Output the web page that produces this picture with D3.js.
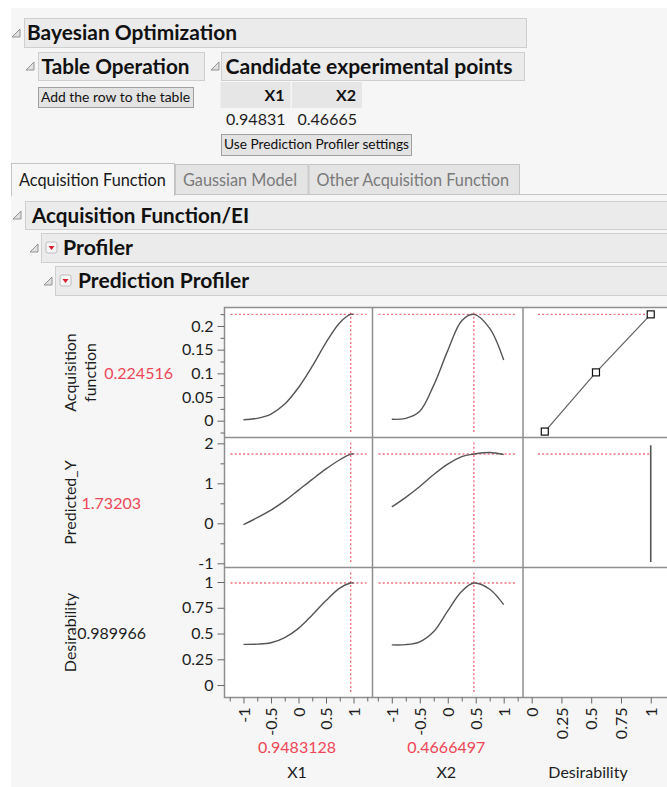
<!DOCTYPE html>
<html><head><meta charset="utf-8">
<script src="https://cdn.jsdelivr.net/npm/d3@7"></script>
<style>
body{margin:0;background:#fff;}
svg{display:block;font-family:Lato,"Open Sans",sans-serif;}
</style></head>
<body><svg id="c" width="667" height="787"></svg>
<script>
// ---------------- data ----------------
const candidateCols = ["X1", "X2"];
const candidateVals = ["0.94831", "0.46665"];
const tabNames = ["Acquisition Function", "Gaussian Model", "Other Acquisition Function"];
const responseNames = [["Acquisition", "function"], ["Predicted_Y"], ["Desirability"]];
const responseCurrent = ["0.224516", "1.73203", "0.989966"];
const factorNames = ["X1", "X2", "Desirability"];
const factorCurrent = ["0.9483128", "0.4666497", ""];
const x1Current = 0.9483128, x2Current = 0.4666497;
const acqCurrent = 0.224516, predCurrent = 1.73203, desCurrent = 0.989966;

const x1Grid = [-1, -0.75, -0.5, -0.25, 0, 0.25, 0.5, 0.75, 0.948, 1];
const acqX1  = [0.002, 0.005, 0.014, 0.035, 0.07, 0.115, 0.165, 0.207, 0.2245, 0.2245];
const predX1 = [-0.03, 0.14, 0.33, 0.56, 0.83, 1.1, 1.36, 1.59, 1.732, 1.74];
const desX1  = [0.395, 0.397, 0.41, 0.46, 0.55, 0.68, 0.82, 0.94, 0.99, 0.99];

const x2Grid = [-1, -0.75, -0.5, -0.25, 0, 0.25, 0.4666, 0.75, 1];
const acqX2  = [0.003, 0.005, 0.02, 0.075, 0.148, 0.211, 0.2245, 0.195, 0.128];
const predX2 = [0.41, 0.65, 0.92, 1.22, 1.48, 1.67, 1.732, 1.77, 1.72];
const desX2  = [0.39, 0.392, 0.42, 0.52, 0.72, 0.91, 0.99, 0.93, 0.78];

const desFnD   = [0.11, 0.54, 1.0];        // desirability at control points
const desFnAcq = [-0.023, 0.102, 0.2245];  // acquisition value at control points
const desPredD = [1, 1];
const desPredY = [-0.97, 1.95];

const rowTicks = [[0, 0.05, 0.1, 0.15, 0.2], [-1, 0, 1, 2], [0, 0.25, 0.5, 0.75, 1]];
const rowMinor = [[-0.025, 0.025, 0.075, 0.125, 0.175, 0.225], [-0.5, 0.5, 1.5], []];
const rowLabels = [["0", "0.05", "0.1", "0.15", "0.2"], ["-1", "0", "1", "2"], ["0", "0.25", "0.5", "0.75", "1"]];
const colTicks = [[-1, -0.5, 0, 0.5, 1], [-1, -0.5, 0, 0.5, 1], [0, 0.25, 0.5, 0.75, 1]];
const colMinor = [[-1.25, -0.75, -0.25, 0.25, 0.75, 1.25], [-1.25, -0.75, -0.25, 0.25, 0.75, 1.25], []];
const colLabels = [["-1", "-0.5", "0", "0.5", "1"], ["-1", "-0.5", "0", "0.5", "1"], ["0", "0.25", "0.5", "0.75", "1"]];

// ---------------- drawing ----------------
const RED = "#ee4757", TXT = "#1e1e1e";
const svg = d3.select("#c");
svg.append("rect").attr("x", 11).attr("y", 8).attr("width", 656).attr("height", 779).attr("fill", "#f6f6f6");

function tri(x, y) { // disclosure triangle, lower-right
  svg.append("path").attr("d", `M${x},${y + 8}L${x + 8},${y + 8}L${x + 8},${y}Z`)
    .attr("fill", "#e0e0e0").attr("stroke", "#8a8a8a").attr("stroke-width", 0.9);
}
function redIcon(x, y) {
  svg.append("rect").attr("x", x).attr("y", y).attr("width", 11).attr("height", 11).attr("rx", 2)
    .attr("fill", "#f7f7f7").attr("stroke", "#b0b0b0").attr("stroke-width", 0.8);
  svg.append("path").attr("d", `M${x + 2.5},${y + 4}L${x + 8.5},${y + 4}L${x + 5.5},${y + 8}Z`).attr("fill", "#d9202e");
}
function header(x, y, w, h, text, tx, fs, tw) {
  svg.append("rect").attr("x", x + 0.5).attr("y", y + 0.5).attr("width", w).attr("height", h)
    .attr("fill", "#ebebeb").attr("stroke", "#cfcfcf");
  svg.append("text").attr("x", tx).attr("y", y + h / 2 + 0.5).attr("dy", "0.36em")
    .attr("font-size", fs).attr("font-weight", 700).attr("fill", "#111")
    .attr("textLength", tw).attr("lengthAdjust", "spacingAndGlyphs").text(text);
}
function button(x, y, w, h, text, fs, tw) {
  svg.append("rect").attr("x", x + 0.5).attr("y", y + 0.5).attr("width", w).attr("height", h)
    .attr("fill", "#e3e3e3").attr("stroke", "#a0a0a0");
  svg.append("text").attr("x", x + 3).attr("y", y + h / 2).attr("dy", "0.35em")
    .attr("font-size", fs).attr("fill", "#111")
    .attr("textLength", tw).attr("lengthAdjust", "spacingAndGlyphs").text(text);
}

header(24, 18, 502, 29, "Bayesian Optimization", 27, 20, 210); tri(12, 29);
header(38, 52, 166, 28, "Table Operation", 41.5, 20, 148); tri(26, 62);
header(221, 52, 303, 28, "Candidate experimental points", 225.5, 20, 287); tri(211, 62);
button(38, 87, 155, 20, "Add the row to the table", 13.5, 149);

// candidate table
const cellX = [220.5, 292];
candidateCols.forEach((c, i) => {
  svg.append("rect").attr("x", cellX[i]).attr("y", 82).attr("width", 70).attr("height", 26).attr("fill", "#e6e6e6");
  svg.append("text").attr("x", cellX[i] + 64).attr("y", 95).attr("dy", "0.36em").attr("text-anchor", "end")
    .attr("font-size", 16).attr("font-weight", 700).attr("fill", "#111").text(c);
  svg.append("text").attr("x", cellX[i] + 65).attr("y", 119).attr("dy", "0.36em").attr("text-anchor", "end")
    .attr("font-size", 16).attr("fill", TXT).text(candidateVals[i]);
});
button(221, 134, 190, 21, "Use Prediction Profiler settings", 13.5, 185);

// tabs
const tabX = [11, 175, 308.5, 520];
svg.append("line").attr("x1", 11).attr("x2", 667).attr("y1", 194.5).attr("y2", 194.5).attr("stroke", "#c4c4c4");
tabNames.forEach((t, i) => {
  const sel = i === 0;
  svg.append("rect").attr("x", tabX[i] + 0.5).attr("y", sel ? 163.5 : 164.5).attr("width", tabX[i + 1] - tabX[i] - 1)
    .attr("height", sel ? 32 : 30).attr("fill", sel ? "#f6f6f6" : "#e4e4e4").attr("stroke", "#c4c4c4");
  svg.append("text").attr("x", tabX[i] + 8).attr("y", 180.5).attr("dy", "0.35em").attr("font-size", 16.3)
    .attr("fill", sel ? "#1a1a1a" : "#7a7a7a").text(t);
});
svg.append("rect").attr("x", 12).attr("y", 190).attr("width", 162).attr("height", 6).attr("fill", "#f6f6f6");

header(25, 201, 660, 28, "Acquisition Function/EI", 32, 20, 217); tri(13, 211);
header(41, 233, 660, 29, "Profiler", 63, 20, 70); tri(30, 244); redIcon(46, 242);
header(55, 266, 660, 29, "Prediction Profiler", 78, 20, 171); tri(44, 277); redIcon(60, 275);

// profiler grid
const cols = [{ l: 224.5, r: 372.5, dom: [-1.345, 1.345] },
              { l: 372.5, r: 523, dom: [-1.345, 1.345] },
              { l: 523, r: 673, dom: [-0.073, 1.187] }];
const rows = [{ t: 307.5, b: 437.5, dom: [-0.0355, 0.239] },
              { t: 437.5, b: 567.5, dom: [-1.105, 2.146] },
              { t: 567.5, b: 697.5, dom: [-0.121, 1.141] }];
const xs = cols.map(c => d3.scaleLinear().domain(c.dom).range([c.l, c.r]));
const ys = rows.map(r => d3.scaleLinear().domain(r.dom).range([r.b, r.t]));

svg.append("rect").attr("x", 224.5).attr("y", 307.5).attr("width", 460).attr("height", 390)
  .attr("fill", "#fff").attr("stroke", "#8f8f8f").attr("stroke-width", 1.5);
[372.5, 523].forEach(x => svg.append("line").attr("x1", x).attr("x2", x).attr("y1", 307.5).attr("y2", 697.5)
  .attr("stroke", "#8f8f8f").attr("stroke-width", 1.5));
[437.5, 567.5].forEach(y => svg.append("line").attr("x1", 224.5).attr("x2", 680).attr("y1", y).attr("y2", y)
  .attr("stroke", "#8f8f8f").attr("stroke-width", 1.5));

// y axes
rows.forEach((r, i) => {
  const gMin = svg.append("g").attr("transform", "translate(224.5,0)")
    .call(d3.axisLeft(ys[i]).tickValues(rowMinor[i]).tickSize(4).tickFormat(""));
  const g = svg.append("g").attr("transform", "translate(224.5,0)")
    .call(d3.axisLeft(ys[i]).tickValues(rowTicks[i]).tickSize(7).tickPadding(4)
      .tickFormat((d, k) => rowLabels[i][k]));
  [gMin, g].forEach(gg => { gg.select(".domain").remove(); gg.selectAll("line").attr("stroke", "#666"); });
  g.selectAll("text").attr("font-size", 16).attr("fill", TXT).attr("font-family", "Lato");
});
// x axes
cols.forEach((c, i) => {
  const gMin = svg.append("g").attr("transform", "translate(0,697.5)")
    .call(d3.axisBottom(xs[i]).tickValues(colMinor[i]).tickSize(4).tickFormat(""));
  const g = svg.append("g").attr("transform", "translate(0,697.5)")
    .call(d3.axisBottom(xs[i]).tickValues(colTicks[i]).tickSize(6).tickFormat((d, k) => colLabels[i][k]));
  [gMin, g].forEach(gg => { gg.select(".domain").remove(); gg.selectAll("line").attr("stroke", "#666"); });
  g.selectAll("text").attr("transform", "rotate(-90)").attr("text-anchor", "end")
    .attr("x", -10).attr("y", 0).attr("dy", "0.36em")
    .attr("font-size", 16).attr("fill", TXT).attr("font-family", "Lato");
});

// response labels
responseNames.forEach((lines, i) => {
  const cy = (rows[i].t + rows[i].b) / 2;
  lines.forEach((ln, k) => {
    const cx = lines.length === 1 ? 70 : 70 + k * 20;
    svg.append("text").attr("transform", `translate(${cx},${cy}) rotate(-90)`).attr("text-anchor", "middle")
      .attr("dy", "0.36em").attr("font-size", 16).attr("fill", TXT).text(ln);
  });
});
const curX = [173, 141, 146];
responseCurrent.forEach((v, i) => {
  svg.append("text").attr("x", curX[i]).attr("y", (rows[i].t + rows[i].b) / 2 + 1).attr("dy", "0.36em")
    .attr("text-anchor", "end").attr("font-size", 16).attr("fill", i === 2 ? TXT : RED).text(v);
});
factorNames.forEach((f, i) => {
  const cx = (cols[i].l + Math.min(cols[i].r, 667)) / 2;
  const cxx = i === 2 ? 588 : cx - 1.5;
  if (factorCurrent[i]) svg.append("text").attr("x", cxx).attr("y", 747).attr("dy", "0.36em")
    .attr("text-anchor", "middle").attr("font-size", 16).attr("fill", RED).text(factorCurrent[i]);
  svg.append("text").attr("x", cxx).attr("y", 772).attr("dy", "0.36em")
    .attr("text-anchor", "middle").attr("font-size", 16).attr("fill", TXT).text(f);
});

// clip
svg.append("clipPath").attr("id", "clip").append("rect").attr("x", 224.5).attr("y", 307.5).attr("width", 443).attr("height", 390);
const plot = svg.append("g").attr("clip-path", "url(#clip)");

// reference lines
function dotted(x1, y1, x2, y2) {
  plot.append("line").attr("x1", x1).attr("y1", y1).attr("x2", x2).attr("y2", y2)
    .attr("stroke", "#f0707c").attr("stroke-width", 1.4).attr("stroke-dasharray", "2,2.2");
}
const curVals = [acqCurrent, predCurrent, desCurrent];
const curF = [x1Current, x2Current];
rows.forEach((r, i) => {
  [0, 1].forEach(j => {
    dotted(cols[j].l + 6, ys[i](curVals[i]), cols[j].r - 6, ys[i](curVals[i]));
    dotted(xs[j](curF[j]), r.t + 5, xs[j](curF[j]), r.b - 5);
  });
});
dotted(cols[2].l + 15, ys[0](acqCurrent), xs[2](1), ys[0](acqCurrent));
dotted(cols[2].l + 15, ys[1](predCurrent), xs[2](1), ys[1](predCurrent));

// curves
const series = [[x1Grid, acqX1, 0, 0], [x1Grid, predX1, 1, 0], [x1Grid, desX1, 2, 0],
                [x2Grid, acqX2, 0, 1], [x2Grid, predX2, 1, 1], [x2Grid, desX2, 2, 1]];
series.forEach(([xg, yv, ri, ci]) => {
  const line = d3.line().x(d => xs[ci](d[0])).y(d => ys[ri](d[1])).curve(d3.curveCatmullRom.alpha(0.5));
  plot.append("path").attr("d", line(xg.map((x, k) => [x, yv[k]])))
    .attr("fill", "none").attr("stroke", "#555").attr("stroke-width", 1.4);
});
// desirability function panel
const dl = d3.line().x(d => xs[2](d[0])).y(d => ys[0](d[1]));
const dPts = desFnD.map((d, k) => [d, desFnAcq[k]]);
plot.append("path").attr("d", dl(dPts)).attr("fill", "none").attr("stroke", "#666").attr("stroke-width", 1.3);
svg.selectAll(".sq").data(dPts).enter().append("rect")
  .attr("x", d => xs[2](d[0]) - 3.5).attr("y", d => ys[0](d[1]) - 3.5).attr("width", 7).attr("height", 7)
  .attr("fill", "#fff").attr("stroke", "#111").attr("stroke-width", 1.2);
plot.append("line").attr("x1", xs[2](desPredD[0])).attr("x2", xs[2](desPredD[1]))
  .attr("y1", ys[1](desPredY[0])).attr("y2", ys[1](desPredY[1])).attr("stroke", "#555").attr("stroke-width", 1.6);
</script></body></html>
